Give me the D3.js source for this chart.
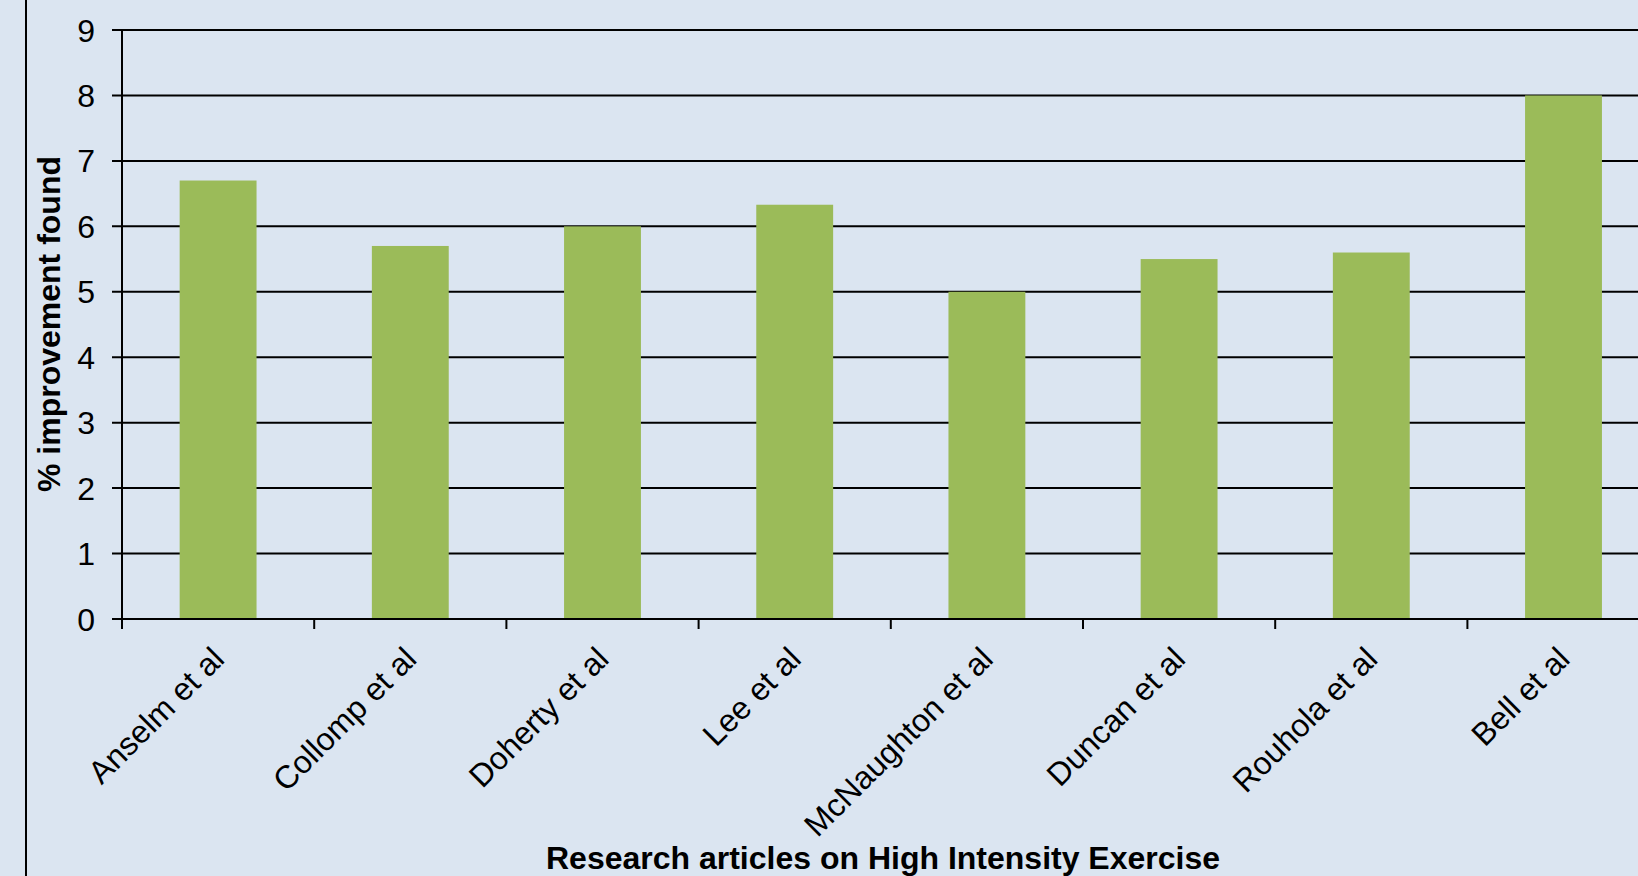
<!DOCTYPE html>
<html>
<head>
<meta charset="utf-8">
<script src="https://cdn.jsdelivr.net/npm/d3@7"></script>
<style>
  html, body { margin: 0; padding: 0; background: #DBE5F1; }
  svg { display: block; font-family: Arial, "Liberation Sans", sans-serif; }
</style>
</head>
<body>
<svg id="chart"></svg>
<script>
// Chart data
const studies = ['Anselm et al', 'Collomp et al', 'Doherty et al', 'Lee et al',
    'McNaughton et al', 'Duncan et al', 'Rouhola et al', 'Bell et al'];
const improvement = [6.7, 5.7, 6.0, 6.33, 5.0, 5.5, 5.6, 8.0];
const yTicks = [0, 1, 2, 3, 4, 5, 6, 7, 8, 9];

const W = 1638, H = 876;

const svg = d3.select('#chart').attr('width', W).attr('height', H);

// background
svg.append('rect').attr('width', W).attr('height', H).attr('fill', '#DBE5F1');

// left frame line
svg.append('line')
    .attr('x1', 26).attr('x2', 26).attr('y1', 0).attr('y2', H)
    .attr('stroke', '#000').attr('stroke-width', 2);

// scales (plot runs past the right edge, as in the original)
const x = d3.scaleBand()
    .domain(studies)
    .range([122, 122 + 8 * 192.2])
    .paddingInner(0.6)
    .paddingOuter(0.3);

const y = d3.scaleLinear().domain([0, 9]).range([619, 30]);

// gridlines + y ticks
const grid = svg.append('g');
grid.selectAll('line')
    .data(yTicks)
    .enter().append('line')
    .attr('x1', 112).attr('x2', W)
    .attr('y1', d => y(d)).attr('y2', d => y(d))
    .attr('stroke', '#000').attr('stroke-width', 2);

grid.selectAll('text')
    .data(yTicks)
    .enter().append('text')
    .attr('x', 95)
    .attr('y', d => y(d))
    .attr('dy', '0.36em')
    .attr('text-anchor', 'end')
    .attr('font-size', 32)
    .text(d => d);

// bars
svg.append('g').selectAll('rect')
    .data(studies)
    .enter().append('rect')
    .attr('x', d => x(d))
    .attr('width', x.bandwidth())
    .attr('y', (d, i) => y(improvement[i]))
    .attr('height', (d, i) => y(0) - y(improvement[i]))
    .attr('fill', '#9BBB59');

// y axis line
svg.append('line')
    .attr('x1', 122).attr('x2', 122).attr('y1', y(9)).attr('y2', y(0) + 10)
    .attr('stroke', '#000').attr('stroke-width', 2);

// x axis line redrawn over bars
svg.append('line')
    .attr('x1', 112).attr('x2', W).attr('y1', y(0)).attr('y2', y(0))
    .attr('stroke', '#000').attr('stroke-width', 2);

// category boundary ticks
const edgeOffset = x.step() * x.paddingOuter();
const boundaries = studies.map(d => x(d) - edgeOffset);
svg.append('g').selectAll('line')
    .data(boundaries)
    .enter().append('line')
    .attr('x1', d => d).attr('x2', d => d)
    .attr('y1', y(0)).attr('y2', y(0) + 10)
    .attr('stroke', '#000').attr('stroke-width', 2);

// rotated category labels
svg.append('g').selectAll('text')
    .data(studies)
    .enter().append('text')
    .attr('transform', d => `translate(${x(d) + x.bandwidth() / 2 + 8},${y(0) + 42}) rotate(-45)`)
    .attr('text-anchor', 'end')
    .attr('font-size', 32)
    .text(d => d);

// axis titles
svg.append('text')
    .attr('transform', 'translate(60,324) rotate(-90)')
    .attr('text-anchor', 'middle')
    .attr('font-size', 32)
    .attr('font-weight', 'bold')
    .text('% improvement found');

svg.append('text')
    .attr('x', 883).attr('y', 869)
    .attr('text-anchor', 'middle')
    .attr('font-size', 32)
    .attr('font-weight', 'bold')
    .text('Research articles on High Intensity Exercise');
</script>
</body>
</html>
